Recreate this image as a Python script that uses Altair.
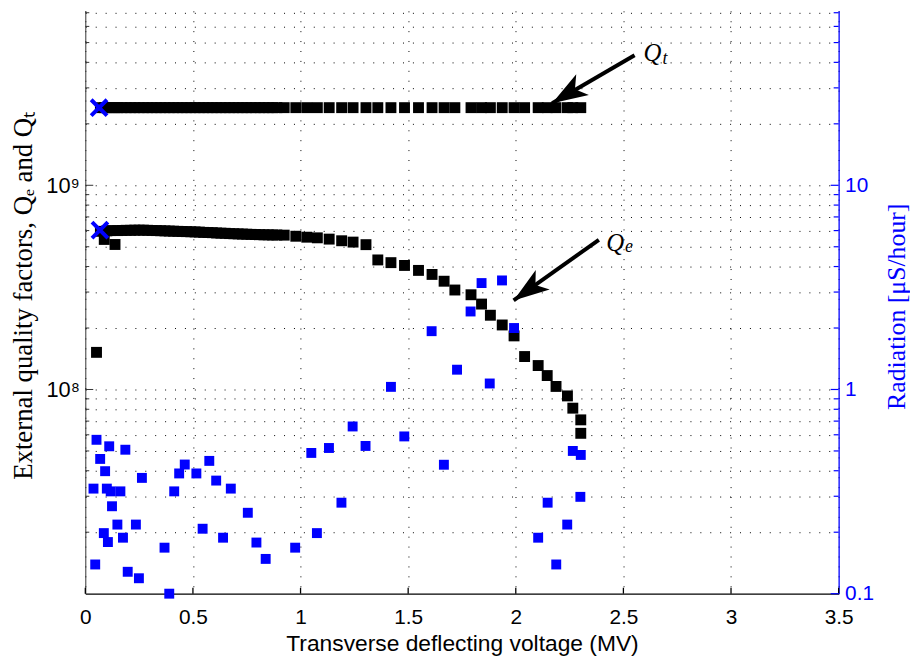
import altair as alt
import pandas as pd

# ---------------- data ----------------
qe_x = [0.052, 0.07, 0.088, 0.10, 0.12, 0.138,
        0.15, 0.17, 0.19, 0.21, 0.23, 0.25, 0.27, 0.29, 0.31, 0.33,
        0.35, 0.37, 0.39, 0.41, 0.43, 0.45, 0.47, 0.49, 0.51, 0.53,
        0.55, 0.57, 0.59, 0.61, 0.63, 0.65, 0.67, 0.69, 0.71, 0.73,
        0.75, 0.77, 0.79, 0.81, 0.83, 0.85, 0.87, 0.89,
        0.924, 0.978, 1.029, 1.078, 1.133, 1.191, 1.244, 1.304, 1.359, 1.42,
        1.483, 1.548, 1.611, 1.667, 1.717, 1.792, 1.841, 1.882, 1.937, 1.992,
        2.041, 2.104, 2.146, 2.187, 2.24, 2.265, 2.302, 2.302]
qe_v = [1.52e8, 5.95e8, 5.43e8, 5.98e8, 6.0e8, 5.13e8,
        6.0e8, 6.01e8, 6.02e8, 6.02e8, 6.03e8, 6.03e8, 6.03e8, 6.02e8, 6.01e8, 6.0e8,
        5.99e8, 5.98e8, 5.97e8, 5.96e8, 5.95e8, 5.94e8, 5.93e8, 5.92e8, 5.91e8, 5.9e8,
        5.88e8, 5.87e8, 5.86e8, 5.84e8, 5.83e8, 5.82e8, 5.8e8, 5.79e8, 5.78e8, 5.77e8,
        5.76e8, 5.75e8, 5.74e8, 5.73e8, 5.72e8, 5.72e8, 5.71e8, 5.71e8,
        5.70e8, 5.63e8, 5.57e8, 5.53e8, 5.45e8, 5.35e8, 5.27e8, 5.12e8, 4.31e8, 4.18e8,
        4.05e8, 3.83e8, 3.66e8, 3.39e8, 3.07e8, 2.91e8, 2.62e8, 2.31e8, 2.07e8, 1.83e8,
        1.45e8, 1.31e8, 1.17e8, 1.035e8, 9.3e7, 8.1e7, 7.1e7, 6.1e7]

qt_x = [0.07, 0.088, 0.10, 0.12, 0.138,
        0.15, 0.17, 0.19, 0.21, 0.23, 0.25, 0.27, 0.29, 0.31, 0.33,
        0.35, 0.37, 0.39, 0.41, 0.43, 0.45, 0.47, 0.49, 0.51, 0.53,
        0.55, 0.57, 0.59, 0.61, 0.63, 0.65, 0.67, 0.69, 0.71, 0.73,
        0.75, 0.77, 0.79, 0.81, 0.83, 0.85, 0.87, 0.89,
        0.924, 0.978, 1.029, 1.078, 1.133, 1.191, 1.244, 1.304, 1.359, 1.42,
        1.483, 1.548, 1.611, 1.667, 1.717, 1.792, 1.841, 1.882, 1.937, 1.992,
        2.041, 2.104, 2.146, 2.187, 2.24, 2.265, 2.302]
qt_v = [2.4e9, 2.4e9, 2.4e9, 2.4e9, 2.4e9,
        2.4e9, 2.4e9, 2.4e9, 2.4e9, 2.4e9, 2.4e9, 2.4e9, 2.4e9, 2.4e9, 2.4e9,
        2.4e9, 2.4e9, 2.4e9, 2.4e9, 2.4e9, 2.4e9, 2.4e9, 2.4e9, 2.4e9, 2.4e9,
        2.4e9, 2.4e9, 2.4e9, 2.4e9, 2.4e9, 2.4e9, 2.4e9, 2.4e9, 2.4e9, 2.4e9,
        2.4e9, 2.4e9, 2.4e9, 2.4e9, 2.4e9, 2.4e9, 2.4e9, 2.4e9,
        2.4e9, 2.4e9, 2.4e9, 2.4e9, 2.4e9, 2.4e9, 2.4e9, 2.4e9, 2.4e9, 2.4e9,
        2.4e9, 2.4e9, 2.4e9, 2.4e9, 2.4e9, 2.4e9, 2.4e9, 2.4e9, 2.4e9, 2.4e9,
        2.4e9, 2.4e9, 2.4e9, 2.4e9, 2.4e9, 2.4e9, 2.4e9]

rad_x = [0.038, 0.046, 0.052, 0.069, 0.086, 0.092, 0.100, 0.105, 0.111, 0.118,
         0.124, 0.149, 0.163, 0.175, 0.186, 0.197, 0.235, 0.249, 0.263, 0.368,
         0.390, 0.413, 0.436, 0.462, 0.516, 0.545, 0.576, 0.608, 0.640, 0.676,
         0.755, 0.795, 0.838, 0.975, 1.050, 1.076, 1.132, 1.190, 1.242, 1.302,
         1.420, 1.482, 1.609, 1.666, 1.727, 1.790, 1.841, 1.879, 1.936, 1.992,
         2.104, 2.148, 2.188, 2.239, 2.265, 2.300, 2.302]
rad_v = [0.327, 0.139, 0.567, 0.457, 0.198, 0.398, 0.327, 0.179, 0.527, 0.317,
         0.268, 0.218, 0.317, 0.188, 0.507, 0.128, 0.218, 0.119, 0.369, 0.168,
         0.100, 0.317, 0.388, 0.429, 0.388, 0.208, 0.447, 0.358, 0.188, 0.327,
         0.249, 0.178, 0.148, 0.168, 0.489, 0.198, 0.517, 0.279, 0.659, 0.529,
         1.03, 0.589, 1.93, 0.428, 1.25, 2.41, 3.32, 1.07, 3.42, 2.0,
         0.188, 0.279, 0.139, 0.218, 0.5, 0.298, 0.478]

start_x = [0.064, 0.068]
start_v = [2.4e9, 6.03e8]

arrow_tail_x = [2.552, 2.386]
arrow_tail_v = [4.33e9, 5.41e8]
arrow_tip_x = [2.169, 1.99]
arrow_tip_v = [2.52e9, 2.73e8]
arrow_angle = [238.4, 234.6]

label_q_x = [2.635, 2.462]
label_q_v = [4.42e9, 5.23e8]
label_sub_x = [2.693, 2.526]
label_sub_v = [4.14e9, 5.0e8]
label_sub_text = ["t", "e"]

x_ticks = [0, 0.5, 1, 1.5, 2, 2.5, 3, 3.5]
q_major = [1e8, 1e9]
q_minor = [2e7, 3e7, 4e7, 5e7, 6e7, 7e7, 8e7, 9e7,
           2e8, 3e8, 4e8, 5e8, 6e8, 7e8, 8e8, 9e8,
           2e9, 3e9, 4e9, 5e9, 6e9, 7e9]
r_major = [0.1, 1, 10]
r_minor = [0.2, 0.3, 0.4, 0.5, 0.6, 0.7, 0.8, 0.9,
           2, 3, 4, 5, 6, 7, 8, 9,
           20, 30, 40, 50, 60, 70]

# ---------------- styling ----------------
W, H = 760, 588
SANS = "Liberation Sans"
SERIF = "Liberation Serif"
BLUE = "#0000ff"

xs = alt.Scale(domain=[0, 3.5], nice=False, zero=False)
qs = alt.Scale(type="log", domain=[1e7, 7.15e9], nice=False)
rs = alt.Scale(type="log", domain=[0.1, 71.5], nice=False)

x_axis = alt.Axis(
    values=x_ticks, labelExpr="toString(datum.value)",
    title="Transverse deflecting voltage (MV)",
    ticks=False, grid=True, gridDash=[1, 9], gridColor="#000", gridWidth=1,
    domainColor="#000", domainWidth=1.3,
    labelFont=SANS, labelFontSize=21, labelColor="#000", labelPadding=13,
    labelFlush=False, labelOverlap=False,
    titleFont=SANS, titleFontSize=23, titleFontWeight="normal", titleColor="#000",
    titleY=39,
)
q_axis = alt.Axis(
    orient="left", values=q_minor + q_major,
    labelExpr="datum.value == 1e8 ? '10\u2078' : (datum.value == 1e9 ? '10\u2079' : '')",
    ticks=False, grid=True, gridDash=[1, 9], gridColor="#000", gridWidth=1,
    domainColor="#333", domainWidth=1,
    labelFont=SANS, labelFontSize=22, labelColor="#000", labelPadding=6,
    labelOverlap=False, labelFlush=False,
    title="External quality factors, Q\u2091 and Q\u209c",
    titleFont=SERIF, titleFontSize=27, titleFontWeight="normal", titleColor="#000",
    titleX=-62, titleY=287, titleBaseline="middle", titleAngle=270,
)
r_axis = alt.Axis(
    orient="right", values=r_minor + r_major,
    labelExpr="datum.value == 0.1 ? '0.1' : (datum.value == 1 ? '1' : (datum.value == 10 ? '10' : ''))",
    ticks=False, grid=False,
    domainColor=BLUE, domainWidth=1.3,
    labelFont=SANS, labelFontSize=21, labelColor=BLUE, labelPadding=6,
    labelOverlap=False, labelFlush=False,
    title="Radiation [\u03bcS/hour]",
    titleFont=SERIF, titleFontSize=26, titleFontWeight="normal", titleColor=BLUE,
    titleX=58, titleY=298, titleBaseline="middle", titleAngle=270,
)

qt_df = pd.DataFrame({"x": qt_x, "q": qt_v})
qe_df = pd.DataFrame({"x": qe_x, "q": qe_v})
rad_df = pd.DataFrame({"x": rad_x, "r": rad_v})
start_df = pd.DataFrame({"x": start_x, "q": start_v})
arrow_df = pd.DataFrame({"x": arrow_tail_x, "q": arrow_tail_v,
                         "x2": arrow_tip_x, "q2": arrow_tip_v, "a": arrow_angle})
lq_df = pd.DataFrame({"x": label_q_x, "q": label_q_v})
ls_df = pd.DataFrame({"x": label_sub_x, "q": label_sub_v, "s": label_sub_text})


def xe(field="x:Q"):
    # identical x axis in every layer so the shared axis merges cleanly
    return alt.X(field, scale=xs, axis=x_axis)


def ye(field="q:Q"):
    return alt.Y(field, scale=qs, axis=None)


axes_layer = alt.Chart(qt_df).mark_square(size=121, color="#000", opacity=1).encode(
    x=xe(), y=alt.Y("q:Q", scale=qs, axis=q_axis))
qe_layer = alt.Chart(qe_df).mark_square(size=121, color="#000", opacity=1).encode(
    x=xe(), y=ye())
arrow_line = alt.Chart(arrow_df).mark_rule(color="#000", strokeWidth=4).encode(
    x=xe(), y=ye(), x2="x2:Q", y2="q2:Q")
arrow_head = alt.Chart(arrow_df).mark_point(
    shape="M0,0 L0.54,1.6 L0,1.2 L-0.54,1.6 Z", filled=True, color="#000",
    opacity=1, size=2025, strokeWidth=0,
).encode(x=xe("x2:Q"), y=ye("q2:Q"), angle=alt.Angle("a:Q", scale=None))
start_layer = alt.Chart(start_df).mark_point(
    shape="M-1,-1L1,1M-1,1L1,-1", filled=False, color=BLUE, opacity=1,
    size=256, strokeWidth=4,
).encode(x=xe(), y=ye())
lq_layer = alt.Chart(lq_df).mark_text(
    text="Q", font=SERIF, fontSize=25, fontStyle="italic", color="#000",
    align="center", baseline="middle",
).encode(x=xe(), y=ye())
ls_layer = alt.Chart(ls_df).mark_text(
    font=SERIF, fontSize=18, fontStyle="italic", color="#000",
    align="center", baseline="middle",
).encode(x=xe(), y=ye(), text="s:N")
lt_major = alt.Chart(pd.DataFrame({"t": q_major})).mark_rule(color="#333", strokeWidth=1).encode(
    y=ye("t:Q"), x=alt.value(0), x2=alt.value(8))
lt_minor = alt.Chart(pd.DataFrame({"t": q_minor})).mark_rule(color="#333", strokeWidth=1).encode(
    y=ye("t:Q"), x=alt.value(0), x2=alt.value(4))
bt = alt.Chart(pd.DataFrame({"t": x_ticks})).mark_rule(color="#000", strokeWidth=1.3).encode(
    x=xe("t:Q"), y=alt.value(H), y2=alt.value(H - 6))

rad_layer = alt.Chart(rad_df).mark_square(size=100, color=BLUE, opacity=1).encode(
    x=xe(), y=alt.Y("r:Q", scale=rs, axis=r_axis))
rt_major = alt.Chart(pd.DataFrame({"t": r_major})).mark_rule(color=BLUE, strokeWidth=1.2).encode(
    y=alt.Y("t:Q", scale=rs, axis=None), x=alt.value(W - 8), x2=alt.value(W))
rt_minor = alt.Chart(pd.DataFrame({"t": r_minor})).mark_rule(color=BLUE, strokeWidth=1.2).encode(
    y=alt.Y("t:Q", scale=rs, axis=None), x=alt.value(W - 5), x2=alt.value(W))

chart = alt.layer(
    axes_layer, qe_layer, lt_major, lt_minor, bt,
    rad_layer, rt_major, rt_minor,
    arrow_line, arrow_head, start_layer, lq_layer, ls_layer,
).resolve_scale(y="independent").properties(
    width=W, height=H,
    autosize=alt.AutoSizeParams(type="none"),
    padding={"left": 78, "top": 0, "right": 72, "bottom": 60},
    background="#ffffff",
).configure_view(stroke=None)

chart.save("out.html", embed_options={"renderer": "svg", "actions": False})
